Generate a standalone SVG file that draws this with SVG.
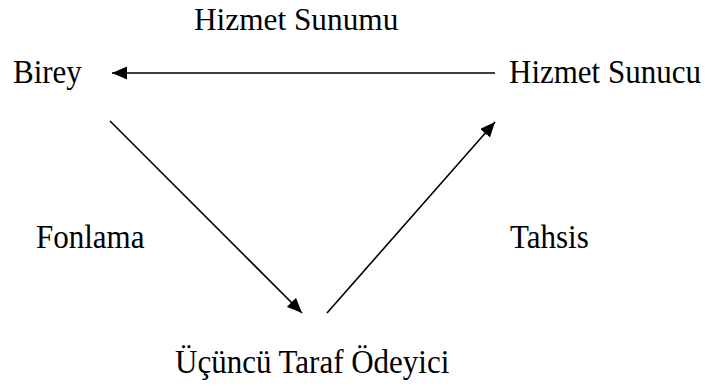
<svg xmlns="http://www.w3.org/2000/svg" width="710" height="387" viewBox="0 0 710 387">
<style>
.t{font-family:'Liberation Serif','Times New Roman',serif;font-size:31px;fill:#000}
.c{stroke:#000;stroke-width:1.6;fill:none}
</style>
<defs>
<marker id="ah" markerUnits="userSpaceOnUse" markerWidth="16" markerHeight="13" refX="15" refY="6.5" orient="auto">
<path d="M0,0 L15,6.5 L0,13 z" fill="#000"/>
</marker>
</defs>
<rect width="710" height="387" fill="#fff"/>
<g id="connectors">
<line class="c" x1="495" y1="73" x2="112" y2="73" marker-end="url(#ah)"/>
<line class="c" x1="110" y1="121" x2="302" y2="313" marker-end="url(#ah)"/>
<line class="c" x1="327" y1="313" x2="495" y2="122" marker-end="url(#ah)"/>
</g>
<g id="label-hizmet-sunumu"><text class="t" transform="translate(194,29.5) scale(1.01,1.04)">Hizmet Sunumu</text></g>
<g id="node-birey"><text class="t" transform="translate(13,83) scale(1,1.07)">Birey</text></g>
<g id="node-hizmet-sunucu"><text class="t" transform="translate(509,83) scale(1,1.07)">Hizmet Sunucu</text></g>
<g id="label-fonlama"><text class="t" transform="translate(36,248) scale(1,1.07)">Fonlama</text></g>
<g id="label-tahsis"><text class="t" transform="translate(510,248) scale(1,1.07)">Tahsis</text></g>
<g id="node-ucuncu-taraf"><text class="t" transform="translate(175,373) scale(1,1.07)">Üçüncü Taraf Ödeyici</text></g>
</svg>
